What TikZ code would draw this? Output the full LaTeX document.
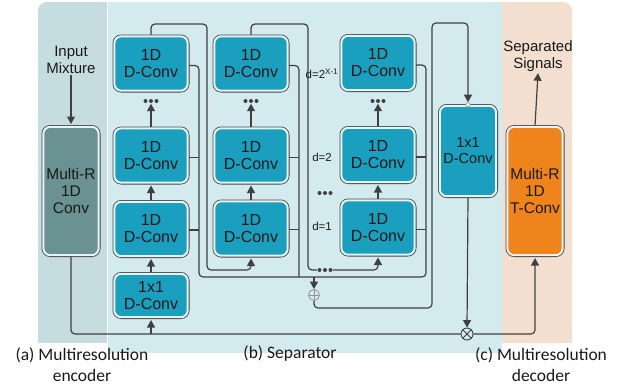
\documentclass[tikz,border=0pt]{standalone}
\usepackage{fontspec}
\setmainfont{Liberation Sans}
\newfontfamily\capfont{Carlito}
\usetikzlibrary{arrows.meta}

\definecolor{encbg}{RGB}{197,221,223}
\definecolor{sepbg}{RGB}{211,234,239}
\definecolor{decbg}{RGB}{243,223,208}
\definecolor{convteal}{RGB}{26,160,190}
\definecolor{encbox}{RGB}{106,146,146}
\definecolor{decbox}{RGB}{240,132,28}
\definecolor{edgec}{RGB}{70,70,70}
\definecolor{gapc}{RGB}{232,243,246}
\definecolor{wirec}{RGB}{64,64,64}
\definecolor{txt}{RGB}{25,25,25}

\pgfdeclarelayer{panels}
\pgfdeclarelayer{wires}
\pgfsetlayers{panels,wires,main}

\tikzset{
  blk/.style={rectangle, rounded corners=7pt, draw=gapc, line width=2pt,
    preaction={draw=edgec, line width=3.6pt}, inner sep=0pt, align=center,
    text=txt, font=\fontsize{15.5}{17}\selectfont},
  conv/.style={blk, fill=convteal, minimum width=73.4pt, minimum height=54.4pt,
    font=\fontsize{16}{17}\selectfont},
  wire/.style={draw=wirec, line width=1.2pt, rounded corners=4pt},
  arrc/.style={wire, -{Triangle[length=7.5pt,width=8pt]}},
  arr/.style={arrc, shorten >=1.8pt},
  dots/.style={minimum width=16pt, minimum height=5pt, inner sep=0pt,
    path picture={\foreach \k in {-1,0,1}
      \fill[wirec] ([xshift=\k*5.5pt]path picture bounding box.center) circle (2pt);}},
  dlab/.style={inner sep=1pt, text=txt, font=\fontsize{11.5}{13}\selectfont},
  iolab/.style={inner sep=1pt, align=center, text=txt, font=\fontsize{15}{17}\selectfont},
  caption/.style={inner sep=0pt, align=center, text=txt, font=\capfont\fontsize{17.5}{21}\selectfont},
  addc/.style={circle, draw=gray!85, line width=0.8pt, minimum size=11pt, inner sep=0pt,
    path picture={\draw[gray!85, line width=0.8pt]
      (path picture bounding box.north) -- (path picture bounding box.south)
      (path picture bounding box.west) -- (path picture bounding box.east);}},
  mulc/.style={circle, draw=wirec, line width=0.9pt, minimum size=12pt, inner sep=0pt,
    path picture={\draw[wirec, line width=0.8pt]
      (path picture bounding box.north west) -- (path picture bounding box.south east)
      (path picture bounding box.south west) -- (path picture bounding box.north east);}},
  jn/.style={circle, draw=gray!80, fill=gapc, line width=0.7pt, minimum size=4.5pt, inner sep=0pt}
}

\begin{document}
\begin{tikzpicture}[x=1pt,y=-1pt]
\useasboundingbox (0,0) rectangle (628,388);

% background panels: encoder, separator, decoder
\begin{pgfonlayer}{panels}
  \fill[encbg, rounded corners=9pt] (38,2) rectangle (106.8,343);
  \fill[encbg] (60,2) rectangle (106.8,343);
  \fill[encbg] (38,100) rectangle (106.8,343);
  \fill[sepbg] (108.4,2) rectangle (501.6,353);
  \fill[decbg, rounded corners=9pt] (502,2) rectangle (572,343);
  \fill[decbg] (502,2) rectangle (550,343);
  \fill[decbg] (502,100) rectangle (572,343);
\end{pgfonlayer}

% encoder and decoder
\node[blk, fill=encbox, minimum width=55.4pt, minimum height=128.4pt] (enc) at (71,191) {Multi-R\\1D\\Conv};
\node[blk, fill=decbox, minimum width=55.4pt, minimum height=128.4pt] (dec) at (535,191) {Multi-R\\1D\\T-Conv};
\node[iolab] (inp) at (71,60) {Input\\Mixture};
\node[iolab] (outp) at (538,56.5) {Separated\\Signals};

% separator blocks, first stack
\node[conv] (a1) at (151,63.5) {1D\\D-Conv};
\node[conv] (b1) at (151,155.5) {1D\\D-Conv};
\node[conv] (c1) at (151,229) {1D\\D-Conv};
\node[conv, minimum height=43.4pt] (e1) at (151,295.5) {1x1\\D-Conv};
% second stack
\node[conv] (a2) at (251,63.5) {1D\\D-Conv};
\node[conv] (b2) at (251,155.5) {1D\\D-Conv};
\node[conv] (c2) at (251,228.5) {1D\\D-Conv};
% last stack
\node[conv] (a3) at (378,63) {1D\\D-Conv};
\node[conv] (b3) at (378,155) {1D\\D-Conv};
\node[conv] (c3) at (378,227.5) {1D\\D-Conv};
% output 1x1 convolution
\node[conv, minimum width=56.4pt, minimum height=90.4pt, font=\fontsize{14.5}{16}\selectfont] (one) at (468,151) {1x1\\D-Conv};

% ellipses
\node[dots] (v1) at (151,101) {};
\node[dots] (v2) at (251,101) {};
\node[dots] (v3) at (378,101) {};
\node[dots] (vm) at (325,193) {};
\node[dots] (hm) at (325,270) {};

% dilation labels
\node[dlab] (l3) at (322,74) {d=2\textsuperscript{X-1}};
\node[dlab] (l2) at (322,157) {d=2};
\node[dlab] (l1) at (322,226) {d=1};

% operators
\node[addc] (add) at (314,295) {};
\node[mulc] (mul) at (467,334) {};
\node[jn] (jn) at (one.north) {};

% routing points
\coordinate (r1t) at (207,24);
\coordinate (r1b) at (207,270);
\coordinate (r2t) at (308,24);
\coordinate (r2b) at (308,270);
\coordinate (s1b) at (199,277);
\coordinate (s2b) at (299,277);
\coordinate (s3b) at (426,277);
\coordinate (rt) at (432,23);
\coordinate (rb) at (432,308);

\begin{pgfonlayer}{wires}
  % stacks
  \draw[arrc] (b1.north) -- (v1.south);
  \draw[arr] (c1.north) -- (b1.south);
  \draw[arr] (e1.north) -- (c1.south);
  \draw[arrc] (b2.north) -- (v2.south);
  \draw[arr] (c2.north) -- (b2.south);
  \draw[arrc] (b3.north) -- (v3.south);
  \draw[arr] (c3.north) -- (b3.south);
  % residual paths between stacks
  \draw[arr] (a1.north) |- (r1t) -- (r1b) -| (c2.south);
  \draw[wire] (a2.north) |- (r2t) -- (r2b) -- (hm.west);
  \draw[arr] (hm.east) -| (c3.south);
  % skip connections
  \draw[wire] ([yshift=-2pt]a1.east) -| (s1b) -- (s3b) |- ([yshift=-2pt]a3.east);
  \draw[wire] ([yshift=-2pt]a2.east) -| (s2b);
  \draw[wire] ([yshift=-2pt]b1.east) -- ([yshift=-2pt]b1.east -| s1b);
  \draw[wire] ([yshift=-1pt]c1.east) -- ([yshift=-1pt]c1.east -| s1b);
  \draw[wire] ([yshift=-2pt]b2.east) -- ([yshift=-2pt]b2.east -| s2b);
  \draw[wire] ([yshift=-1pt]c2.east) -- ([yshift=-1pt]c2.east -| s2b);
  \draw[wire] ([yshift=-2pt]b3.east) -- ([yshift=-2pt]b3.east -| s3b);
  \draw[wire] ([yshift=-2pt]c3.east) -- ([yshift=-2pt]c3.east -| s3b);
  % sum of skips to output convolution
  \draw[arrc] (add.north |- s1b) -- (add.north);
  \draw[arrc] (add.south) |- (rb) -- (rt) -| (jn.north);
  \draw[arrc] (one.south) -- (mul.north);
  % encoder output, mask and decoder
  \draw[wire] (enc.south) |- (mul.west);
  \draw[arr] (e1.south |- mul) -- (e1.south);
  \draw[arr] (mul.east) -| (dec.south);
  \draw[arr] (inp.south) -- (enc.north);
  \draw[arrc] (dec.north) -- (outp.south);
\end{pgfonlayer}

% captions
\node[caption] (capa) at (82,364.5) {(a) Multiresolution\\encoder};
\node[caption] (capb) at (290,354) {(b) Separator};
\node[caption] (capc) at (541,364.5) {(c) Multiresolution\\decoder};
\end{tikzpicture}
\end{document}
